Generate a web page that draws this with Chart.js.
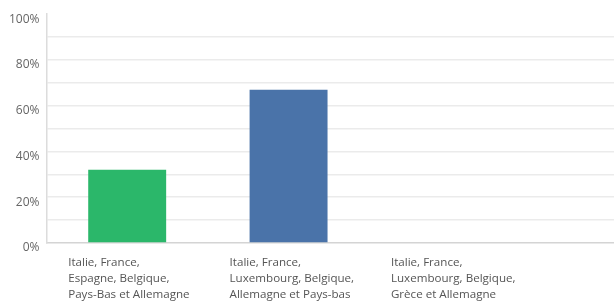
<!DOCTYPE html>
<html>
<head>
<meta charset="utf-8">
<script src="https://cdn.jsdelivr.net/npm/chart.js@4"></script>
<style>
  html, body { margin: 0; padding: 0; background: #fff; overflow: hidden; }
  #wrap { position: relative; width: 692px; height: 304px; }
</style>
</head>
<body>
<div id="wrap"><canvas id="myChart"></canvas></div>
<script>
// categories (the 4th slot is the empty continuation of the cropped chart)
var categories = [
    ['Italie, France,', 'Espagne, Belgique,', 'Pays-Bas et Allemagne'],
    ['Italie, France,', 'Luxembourg, Belgique,', 'Allemagne et Pays-bas'],
    ['Italie, France,', 'Luxembourg, Belgique,', 'Grèce et Allemagne'],
    ''
];
var values = [32, 67, 0, null];
var barColors = ['#2bb76a', '#4a73a9', '#4a73a9', '#4a73a9'];
var tickLabels = ['0%', '20%', '40%', '60%', '80%', '100%'];

var ctx = document.getElementById('myChart').getContext('2d');
var myChart = new Chart(ctx, {
    type: 'bar',
    data: {
        labels: categories,
        datasets: [{
            data: values,
            backgroundColor: barColors,
            borderWidth: 0,
            categoryPercentage: 1,
            barPercentage: 0.483
        }]
    },
    options: {
        responsive: true,
        maintainAspectRatio: false,
        animation: false,
        layout: {
            padding: { top: 13, left: 2, right: 0, bottom: -11 }
        },
        plugins: {
            legend: { display: false },
            tooltip: { enabled: false }
        },
        scales: {
            x: {
                grid: { display: false, drawTicks: false },
                border: { color: '#d4d4d4', width: 1.5 },
                ticks: {
                    align: 'start',
                    labelOffset: -59,
                    padding: 12,
                    color: '#555',
                    maxRotation: 0,
                    autoSkip: false,
                    font: { family: 'Open Sans', size: 11.6, lineHeight: 1.38 }
                }
            },
            y: {
                min: 0,
                max: 100,
                grid: {
                    drawTicks: false,
                    color: function (c) {
                        return (c.tick.value === 0 || c.tick.value === 100) ? 'rgba(0,0,0,0)' : '#ebebeb';
                    },
                    lineWidth: 1.5
                },
                border: { color: '#dcdcdc', width: 1.5 },
                ticks: {
                    stepSize: 10,
                    padding: 7,
                    labelOffset: 5,
                    color: '#666',
                    font: { family: 'Open Sans', size: 12 },
                    callback: function (v) {
                        return v % 20 === 0 ? tickLabels[v / 20] : '';
                    }
                }
            }
        }
    }
});
</script>
</body>
</html>
